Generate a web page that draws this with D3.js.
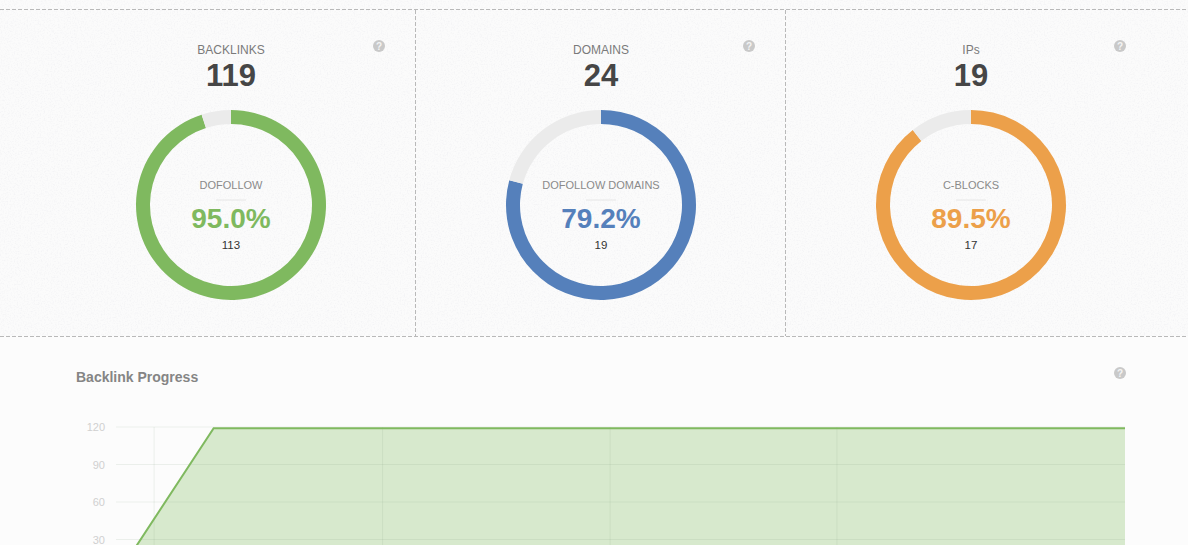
<!DOCTYPE html>
<html><head><meta charset="utf-8">
<script src="https://cdn.jsdelivr.net/npm/d3@7/dist/d3.min.js"></script>
<style>
html,body{margin:0;padding:0;background:#fcfcfc;overflow:hidden}
svg{display:block;font-family:"Liberation Sans",Arial,sans-serif}
</style></head><body>
<svg id="c" width="1188" height="545"></svg>
<script>
const titles = ["BACKLINKS","DOMAINS","IPs"];
const totals = [119,24,19];
const subLabels = ["DOFOLLOW","DOFOLLOW DOMAINS","C-BLOCKS"];
const percents = [95.0,79.2,89.5];
const counts = [113,19,17];
const colors = ["#7fb95f","#5580bb","#eca04a"];
const days = [0,3,31];
const backlinks = [0,119,119];
const yTicks = [30,60,90,120];
const xGrid = [1.17,8.19,15.18,22.15];

const svg = d3.select("#c");
const W = 1188, H = 545;
const panelH = 336;

// textured top panel
const defs = svg.append("defs");
const f = defs.append("filter").attr("id","tex").attr("x",0).attr("y",0).attr("width","100%").attr("height","100%");
f.append("feTurbulence").attr("type","fractalNoise").attr("baseFrequency",0.7).attr("numOctaves",2).attr("seed",4);
f.append("feColorMatrix").attr("type","matrix").attr("values","0 0 0 0 0.88  0 0 0 0 0.88  0 0 0 0 0.90  3 0 0 0 -1.35");
svg.append("rect").attr("x",0).attr("y",0).attr("width",W).attr("height",panelH).attr("fill","#fbfbfb");
svg.append("rect").attr("x",0).attr("y",0).attr("width",W).attr("height",panelH).attr("filter","url(#tex)").attr("opacity",.6);

const dash = s => s.attr("stroke","#b9b9b9").attr("stroke-width",1).attr("stroke-dasharray","4 2").attr("shape-rendering","crispEdges");
[9.5,336.5].forEach(y=>svg.append("line").attr("x1",0).attr("x2",W).attr("y1",y).attr("y2",y).call(dash));
[415.5,785.5].forEach(x=>svg.append("line").attr("x1",x).attr("x2",x).attr("y1",10).attr("y2",336).call(dash));

function help(x,y){
  const g = svg.append("g").attr("transform",`translate(${x},${y})`);
  g.append("circle").attr("r",6).attr("fill","#c9c9c9");
  g.append("text").attr("y",3.5).attr("text-anchor","middle").attr("font-size",10).attr("font-weight","bold").attr("fill","#f4f4f4").text("?");
}

const centers = d3.scalePoint().domain(d3.range(3)).range([231,971]);
const arc = d3.arc().innerRadius(81).outerRadius(95);
const pie = d3.pie().sort(null);
const helpX = [379,749,1120];
titles.forEach((t,i)=>{
  const cx = centers(i);
  const g = svg.append("g").attr("transform",`translate(${cx},205)`);
  g.selectAll("path").data(pie([percents[i],100-percents[i]])).join("path")
    .attr("d",arc).attr("fill",(d,k)=>k===0?colors[i]:"#ebebeb");
  const txt=(y,s,size,fill,weight)=>g.append("text").attr("y",y).attr("text-anchor","middle")
    .attr("font-size",size).attr("fill",fill).attr("font-weight",weight||"normal").text(s);
  txt(-151.5,t,12,"#7a7a7a");
  txt(-119,totals[i],31,"#464646","bold");
  txt(-16,subLabels[i],11,"#8a8a8a");
  g.append("line").attr("x1",-15).attr("x2",15).attr("y1",-5).attr("y2",-5).attr("stroke","#e6e6e6");
  txt(23,percents[i].toFixed(1)+"%",28,colors[i],"bold");
  txt(44,counts[i],11.5,"#333");
  help(helpX[i],46);
});

svg.append("text").attr("x",76).attr("y",382).attr("font-size",14).attr("font-weight","bold").attr("fill","#858585").text("Backlink Progress");
help(1120,373);

const x = d3.scaleLinear().domain([0,31]).range([116,1125]);
const y = d3.scaleLinear().domain([0,120]).range([577,427]);
const area = d3.area().x((d,i)=>x(days[i])).y0(y(0)).y1(d=>y(d));
const line = d3.line().x((d,i)=>x(days[i])).y(d=>y(d));
svg.append("path").datum(backlinks).attr("d",area).attr("fill","#d7e9cd");
yTicks.forEach(v=>{
  svg.append("line").attr("x1",116).attr("x2",1125).attr("y1",y(v)).attr("y2",y(v)).attr("stroke","#7a9a7a").attr("stroke-opacity",.13);
  svg.append("text").attr("x",105).attr("y",y(v)+4).attr("text-anchor","end").attr("font-size",11).attr("fill","#d0d0d0").text(v);
});
xGrid.forEach(v=>svg.append("line").attr("x1",x(v)).attr("x2",x(v)).attr("y1",427).attr("y2",H).attr("stroke","#7a9a7a").attr("stroke-opacity",.13));
svg.append("path").datum(backlinks).attr("d",line).attr("fill","none").attr("stroke","#7fb95f").attr("stroke-width",2);
</script>
</body></html>
